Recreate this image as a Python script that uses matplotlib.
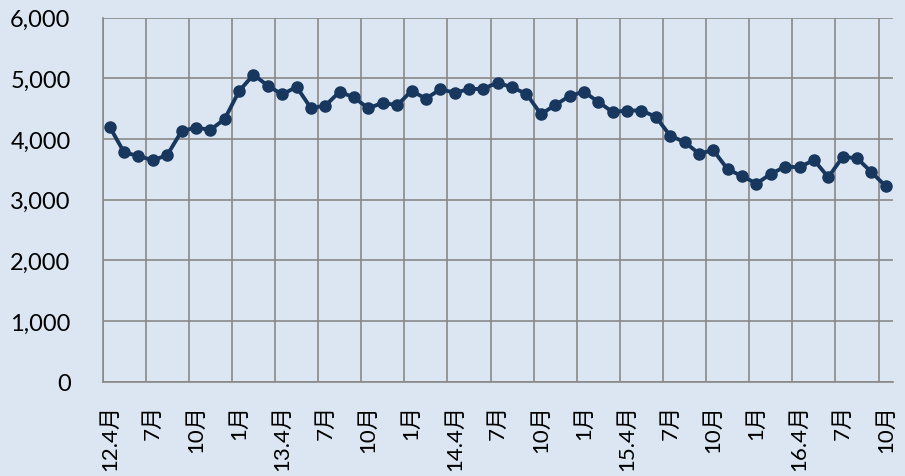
import matplotlib.pyplot as plt

plt.rcParams['font.family'] = ['Lato', 'Noto Sans CJK JP', 'DejaVu Sans']

# monthly values, 2012/4 .. 2016/10
values = [4200, 3780, 3720, 3650, 3735, 4130, 4190, 4150, 4330, 4790,
          5060, 4880, 4735, 4860, 4510, 4550, 4780, 4685, 4505, 4600,
          4555, 4795, 4665, 4820, 4765, 4820, 4830, 4930, 4850, 4745,
          4410, 4560, 4710, 4780, 4610, 4445, 4470, 4470, 4365, 4055,
          3950, 3760, 3815, 3500, 3390, 3265, 3425, 3545, 3535, 3655,
          3370, 3705, 3685, 3455, 3220]
tick_labels = ['12.4月', '7月', '10月', '1月', '13.4月', '7月', '10月', '1月',
               '14.4月', '7月', '10月', '1月', '15.4月', '7月', '10月', '1月',
               '16.4月', '7月', '10月']

bg = '#dce6f2'
grid = '#898989'
navy = '#17375e'

fig = plt.figure(figsize=(9.05, 4.77), dpi=100, facecolor=bg)
ax = fig.add_axes([0.1133, 0.1977, 0.8734, 0.7631])
ax.set_facecolor(bg)

x = list(range(len(values)))
ax.plot(x, values, color=navy, lw=2.8, marker='o', ms=8, zorder=3)

ax.set_xlim(-0.5, len(values) - 0.5)
ax.set_ylim(0, 6000)
ax.set_yticks(range(0, 6001, 1000))
ax.set_yticklabels([f'{v:,}' for v in range(0, 6001, 1000)])
ax.yaxis.grid(True, color=grid, lw=1.2)

# vertical lines between categories, every 3 months
for k in range(len(tick_labels)):
    ax.axvline(k * 3 - 0.5, color=grid, lw=1.2, zorder=1)

ax.set_xticks([k * 3 for k in range(len(tick_labels))])
ax.set_xticklabels(tick_labels, rotation=90)
ax.tick_params(axis='x', length=0, pad=16, labelsize=16, colors='black')
ax.tick_params(axis='y', length=0, pad=23, labelsize=17, colors='black')

for s in ['top', 'right']:
    ax.spines[s].set_visible(False)
for s in ['left', 'bottom']:
    ax.spines[s].set_color(grid)
    ax.spines[s].set_linewidth(1.2)

fig.savefig('out.png', dpi=100, facecolor=bg)
